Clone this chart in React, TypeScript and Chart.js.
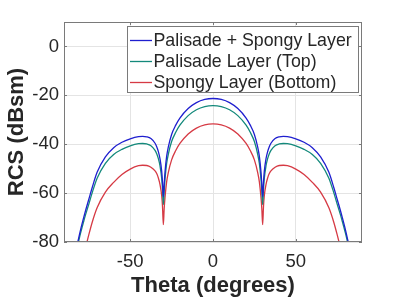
import React, { useEffect, useRef } from "react";
import { Chart, registerables } from "chart.js";

Chart.register(...registerables);

// Angle (degrees)
const theta = [
  -85, -82, -80, -78, -77, -75, -73, -70, -65, -60, -55, -50, -45, -42.5, -40, -37.5, -35, -34, -33, -32, -31,
  -30.5, -30, -29.5, -29, -28, -27, -25, -22.5, -20, -15, -10, -5,
  0,
  5, 10, 15, 20, 22.5, 25, 27, 28, 29, 29.5, 30, 30.5,
  31, 32, 33, 34, 35, 37.5, 40, 42.5, 45, 50, 55, 60, 65, 70, 73, 75, 77, 78, 80, 82, 85,
];

// RCS (dBsm) – Palisade + Spongy Layer
const palisadeSpongy = [
  -90.5, -81.0, -75.0, -69.7, -67.2, -62.5, -57.8, -51.5, -45.2, -41.4, -39.2, -37.8, -36.9, -36.8, -37.0, -37.7, -39.6, -41.0, -43.0, -46.0, -51.0,
  -55.5, -61.5, -56.5, -51.5, -45.0, -41.2, -36.0, -32.2, -29.3, -25.4, -23.0, -21.7,
  -21.3,
  -21.7, -23.0, -25.4, -29.3, -32.2, -36.0, -41.2, -45.0, -51.5, -56.5, -61.5, -55.5,
  -51.0, -46.0, -43.0, -41.0, -39.6, -37.7, -37.0, -36.8, -36.9, -37.8, -39.2, -41.4, -45.2, -51.5, -57.8, -62.5, -67.2, -69.7, -75.0, -81.0, -90.5,
];

// RCS (dBsm) – Palisade Layer (Top)
const palisadeTop = [
  -91.0, -82.2, -76.4, -71.3, -68.9, -64.5, -59.9, -53.9, -47.8, -44.2, -42.1, -40.7, -39.8, -39.7, -39.9, -40.6, -42.5, -43.9, -45.9, -48.9, -53.9,
  -58.5, -64.7, -59.5, -54.4, -47.9, -44.1, -38.9, -35.1, -32.2, -28.3, -25.9, -24.6,
  -24.2,
  -24.6, -25.9, -28.3, -32.2, -35.1, -38.9, -44.1, -47.9, -54.4, -59.5, -64.7, -58.5,
  -53.9, -48.9, -45.9, -43.9, -42.5, -40.6, -39.9, -39.7, -39.8, -40.7, -42.1, -44.2, -47.8, -53.9, -59.9, -64.5, -68.9, -71.3, -76.4, -82.2, -91.0,
];

// RCS (dBsm) – Spongy Layer (Bottom)
const spongyBottom = [
  -110.0, -99.0, -92.0, -85.5, -82.5, -77.0, -72.0, -66.0, -59.6, -55.6, -52.4, -50.2, -48.8, -48.6, -48.7, -49.4, -50.9, -52.0, -53.8, -56.5, -61.0,
  -65.5, -72.9, -66.5, -61.9, -55.4, -51.6, -46.4, -42.6, -39.7, -35.8, -33.4, -32.1,
  -31.7,
  -32.1, -33.4, -35.8, -39.7, -42.6, -46.4, -51.6, -55.4, -61.9, -66.5, -72.9, -65.5,
  -61.0, -56.5, -53.8, -52.0, -50.9, -49.4, -48.7, -48.6, -48.8, -50.2, -52.4, -55.6, -59.6, -66.0, -72.0, -77.0, -82.5, -85.5, -92.0, -99.0, -110.0,
];

const seriesLabels = ["Palisade + Spongy Layer", "Palisade Layer (Top)", "Spongy Layer (Bottom)"];
const xTicks = [-50, 0, 50];
const yTicks = [-80, -60, -40, -20, 0];

const COLORS = ["#1f1fcf", "#13897b", "#d63a44"];
const TEXT = "#262626";
const GRID = "#e4e4e4";
const FRAME = "#7a7a7a";
const FONT = '"Liberation Sans", Arial, Helvetica, sans-serif';

const framePlugin = {
  id: "matlabFrame",
  afterDraw(chart: any) {
    const { ctx, chartArea } = chart;
    const { left, right, top, bottom } = chartArea;
    const xs = chart.scales.x;
    const ys = chart.scales.y;
    ctx.save();
    ctx.strokeStyle = FRAME;
    ctx.lineWidth = 1;
    ctx.strokeRect(left + 0.5, top + 0.5, right - left - 1, bottom - top - 1);
    ctx.beginPath();
    const tl = 3;
    xTicks.forEach((v) => {
      const px = Math.round(xs.getPixelForValue(v)) + 0.5;
      ctx.moveTo(px, bottom);
      ctx.lineTo(px, bottom - tl);
      ctx.moveTo(px, top);
      ctx.lineTo(px, top + tl);
    });
    yTicks.forEach((v) => {
      const py = Math.round(ys.getPixelForValue(v)) + 0.5;
      ctx.moveTo(left, py);
      ctx.lineTo(left + tl, py);
      ctx.moveTo(right, py);
      ctx.lineTo(right - tl, py);
    });
    ctx.stroke();

    // legend inside the axes, top-right
    const bw = 232;
    const bh = 67;
    const bx = right - 3 - bw;
    const by = top + 4;
    ctx.fillStyle = "#ffffff";
    ctx.fillRect(bx, by, bw, bh);
    ctx.strokeStyle = FRAME;
    ctx.lineWidth = 1;
    ctx.strokeRect(bx + 0.5, by + 0.5, bw - 1, bh - 1);
    chart.data.datasets.forEach((ds: any, i: number) => {
      const cy = by + 14 + i * 21;
      ctx.strokeStyle = ds.borderColor;
      ctx.lineWidth = 1.3;
      ctx.beginPath();
      ctx.moveTo(bx + 3, cy + 0.5);
      ctx.lineTo(bx + 25, cy + 0.5);
      ctx.stroke();
      ctx.fillStyle = TEXT;
      ctx.font = `17.8px ${FONT}`;
      ctx.textAlign = "left";
      ctx.textBaseline = "alphabetic";
      ctx.fillText(ds.label, bx + 26.5, cy + 6.3);
    });
    ctx.restore();
  },
};

export default function App() {
  const canvasRef = useRef<HTMLCanvasElement | null>(null);

  useEffect(() => {
    if (!canvasRef.current) return;
    Chart.defaults.font.family = FONT;
    const series = [palisadeSpongy, palisadeTop, spongyBottom];
    const chart = new Chart(canvasRef.current, {
      type: "line",
      data: {
        datasets: series.map((arr, i) => ({
          label: seriesLabels[i],
          data: theta.map((t, j) => ({ x: t, y: arr[j] })),
          borderColor: COLORS[i],
          backgroundColor: COLORS[i],
          borderWidth: 1.3,
          pointRadius: 0,
          pointHoverRadius: 0,
          fill: false,
          cubicInterpolationMode: "monotone",
        })),
      },
      options: {
        animation: false,
        responsive: true,
        maintainAspectRatio: false,
        events: [],
        layout: { padding: { top: 22, right: 37, left: 0, bottom: 0 } },
        plugins: { legend: { display: false }, tooltip: { enabled: false } },
        scales: {
          x: {
            type: "linear",
            min: -90,
            max: 90,
            afterBuildTicks: (s: any) => {
              s.ticks = xTicks.map((v) => ({ value: v }));
            },
            afterFit: (s: any) => {
              s.height = 57;
            },
            ticks: { font: { size: 18.5 }, color: TEXT, padding: 9, maxRotation: 0, autoSkip: false },
            grid: { color: GRID, drawTicks: false, lineWidth: 1 },
            border: { display: false },
            title: {
              display: true,
              text: "Theta (degrees)",
              font: { size: 22, weight: "bold" },
              color: TEXT,
              padding: { top: 0, bottom: 0 },
            },
          },
          y: {
            type: "linear",
            min: -80,
            max: 10,
            afterBuildTicks: (s: any) => {
              s.ticks = yTicks.map((v) => ({ value: v }));
            },
            afterFit: (s: any) => {
              s.width = 64;
            },
            ticks: { font: { size: 18.5 }, color: TEXT, padding: 5, autoSkip: false },
            grid: { color: GRID, drawTicks: false, lineWidth: 1 },
            border: { display: false },
            title: {
              display: true,
              text: "RCS (dBsm)",
              font: { size: 22, weight: "bold" },
              color: TEXT,
              padding: { top: 4, bottom: 0 },
            },
          },
        },
      },
      plugins: [framePlugin],
    } as any);
    return () => chart.destroy();
  }, []);

  return (
    <div style={{ position: "fixed", left: 0, top: 0, width: 399, height: 299, background: "#ffffff" }}>
      <canvas ref={canvasRef} />
    </div>
  );
}
